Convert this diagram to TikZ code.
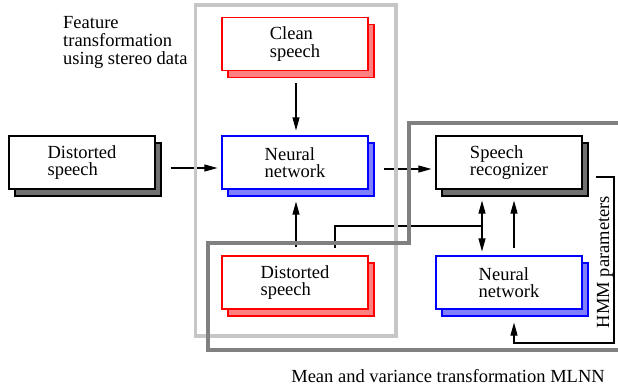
\documentclass[tikz,border=0pt]{standalone}
\usepackage{fontspec}
\setmainfont{Liberation Serif}
\usetikzlibrary{arrows.meta,shadows,calc}

\definecolor{framelight}{RGB}{198,198,198}
\definecolor{framedark}{RGB}{128,128,128}
\definecolor{redshade}{RGB}{255,128,128}
\definecolor{blueshade}{RGB}{128,128,255}
\definecolor{blackshade}{RGB}{112,112,112}

\tikzset{
  blockbox/.style 2 args={draw=#1, fill=white, line width=1.2bp,
    minimum width=146bp, minimum height=53bp, inner sep=0pt,
    align=left, font=\fontsize{18.5bp}{17.6bp}\selectfont,
    execute at begin node={\rule{0pt}{17.6bp}},
    drop shadow={shadow xshift=6bp, shadow yshift=-7bp, opacity=1,
      fill=#2, draw=#1, line width=1.2bp}},
  redbox/.style={blockbox={red}{redshade}},
  bluebox/.style={blockbox={blue}{blueshade}},
  blackbox/.style={blockbox={black}{blackshade}},
  link/.style={line width=1.1bp, -{Triangle[length=13bp,width=7bp]}},
  dlink/.style={line width=1.1bp, {Triangle[length=13bp,width=7bp]}-{Triangle[length=13bp,width=7bp]}},
  plain/.style={line width=1.1bp},
  label/.style={font=\fontsize{18.5bp}{18bp}\selectfont, inner sep=0pt, align=left},
  frame/.style={line width=3.6bp}
}

\begin{document}
\begin{tikzpicture}[x=1bp, y=-1bp]
  \useasboundingbox (0,0) rectangle (618,387);

  % blocks
  \node[redbox]   (clean) at (295,44)    {Clean\\speech};
  \node[bluebox]  (nnA)   at (295,162.5) {Neural\\network};
  \node[blackbox] (dsL)   at (82,162.5)  {Distorted\\speech};
  \node[redbox]   (dsB)   at (295,282.5) {Distorted\\speech};
  \node[blackbox] (rec)   at (509,162.5) {Speech\\recognizer};
  \node[bluebox]  (nnB)   at (509,282.5) {Neural\\network};

  % texts
  \node[label, anchor=north west] (ftitle) at (63,16)
    {Feature\\transformation\\using stereo data};
  \node[label] (mtitle) at (448,376) {Mean and variance transformation MLNN};
  \node[label, rotate=90] (hmm) at (605,262) {HMM parameters};

  % connectors
  \draw[link, shorten >=5bp] ([xshift=1bp,yshift=-12bp]clean.south) -- ([xshift=1bp]nnA.north);
  \draw[link, shorten >=4bp] ([xshift=15bp,yshift=-5.5bp]dsL.east) -- ([yshift=-5.5bp]nnA.west);
  \draw[link, shorten >=4bp] ([xshift=15bp,yshift=-6.5bp]nnA.east) -- ([yshift=-6.5bp]rec.west);
  \draw[link, shorten >=12bp] ([xshift=1bp,yshift=8bp]dsB.north) -- ([xshift=1bp]nnA.south);

  \coordinate (dTop) at ([xshift=-27bp,yshift=-11bp]rec.south);
  \coordinate (dBot) at ([xshift=-27bp,yshift=4bp]nnB.north);
  \coordinate (join) at ($(dTop)!0.5!(dBot)$);
  \draw[dlink] (dTop) -- (dBot);
  \draw[plain] ([xshift=40bp,yshift=7bp]dsB.north) |- (join);
  \draw[link] ([xshift=5bp,yshift=7bp]nnB.north) -- ([xshift=5bp,yshift=-11bp]rec.south);

  \coordinate (hmmCorner) at (614,343);
  \draw[link] ([xshift=13bp,yshift=-14.5bp]rec.east) -| (hmmCorner)
    -| ([xshift=5bp,yshift=-13bp]nnB.south);

  % frames
  \draw[frame, framelight] (195.3,5) rectangle (396,336);
  \draw[frame, framedark] (625,123) -- (409,123) -- (409,243) -- (208,243)
    -- (208,350) -- (625,350);
\end{tikzpicture}
\end{document}
